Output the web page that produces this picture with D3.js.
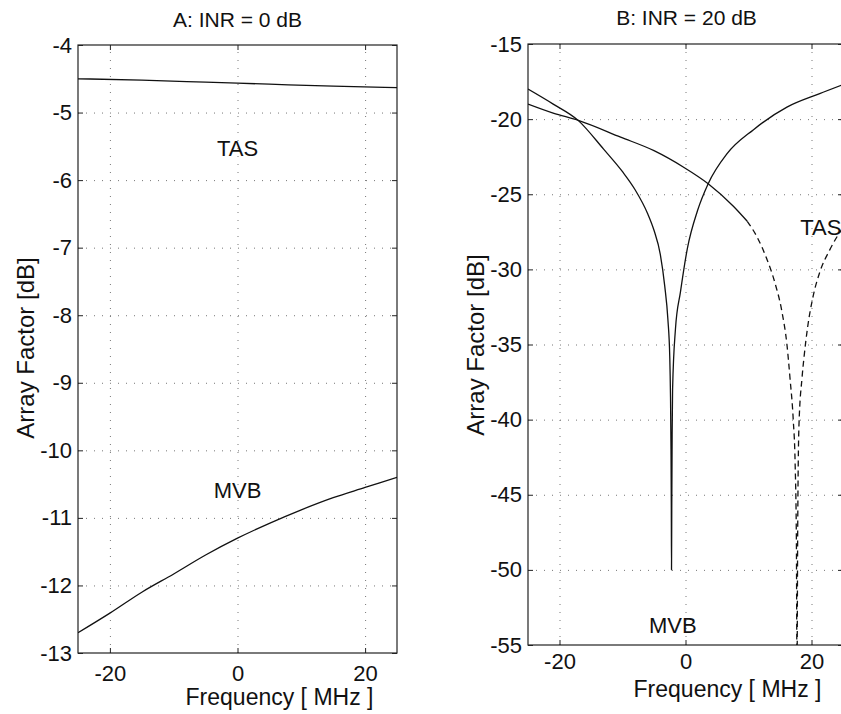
<!DOCTYPE html>
<meta charset="utf-8">
<style>
body { margin: 0; background: #fff; }
svg { font-family: "Liberation Sans", Arial, Helvetica, sans-serif; }
.frame { fill: none; stroke: #222; stroke-width: 1.2px; }
.grid line { stroke: #777; stroke-width: 1px; stroke-dasharray: 1,7; }
.grid path { display: none; }
.ticks path { display: none; }
.ticks line { stroke: #222; }
.ticks text { font-size: 22px; fill: #111; }
.curve { fill: none; stroke: #111; stroke-width: 1.3px; }
.dashed { stroke-dasharray: 6,4; }
.lbl { font-size: 22px; fill: #111; }
</style>
<svg width="841" height="714"></svg>
<script src="https://d3js.org/d3.v7.min.js"></script>
<script>

// frequency ticks shared by both panels [MHz]
var freqTicks = [-20, 0, 20];

// panel A: INR = 0 dB
var aTicks = [-4, -5, -6, -7, -8, -9, -10, -11, -12, -13];
var tasA = [[-25, -4.50], [-15, -4.52], [-5, -4.55], [5, -4.58], [15, -4.61], [25, -4.63]];
var mvbA = [[-25, -12.7], [-20, -12.41], [-15, -12.1], [-10, -11.83], [-5, -11.55], [0, -11.3],
            [5, -11.08], [10, -10.88], [15, -10.7], [20, -10.55], [25, -10.4]];

// panel B: INR = 20 dB
var bTicks = [-15, -20, -25, -30, -35, -40, -45, -50, -55];
var mvbB = [[-25, -18.0], [-21, -19.0], [-17, -20.1], [-13, -22.0], [-10, -23.5], [-8, -24.7],
            [-6, -26.3], [-5, -27.4], [-4, -29.0], [-3.3, -31.1], [-2.8, -33.3], [-2.5, -35.8],
            [-2.38, -38.5], [-2.3, -42], [-2.25, -46], [-2.22, -50], [-2.18, -46], [-2.12, -41],
            [-2.05, -38], [-1.6, -34], [-0.8, -31.5], [0.3, -28.6], [1.9, -26.1], [3.6, -24.3],
            [6.6, -22.3], [10.8, -20.7], [16.1, -19.2], [21.3, -18.3], [25, -17.7]];
var tasB = [[-25, -19.0], [-21, -19.6], [-16.9, -20.1], [-10.3, -21.2], [-5, -22.1], [-0.3, -23.2],
            [3.6, -24.3], [7.6, -25.8], [9.8, -26.8], [11.3, -27.8], [12.9, -29.3], [14.2, -30.9],
            [15.3, -32.8], [16.1, -35.0], [16.6, -37.3], [17.1, -40], [17.4, -42.9], [17.6, -48],
            [17.7, -57], [17.8, -48], [18.0, -40.5], [18.5, -37.2], [18.8, -35.9], [19.4, -33.8],
            [20.2, -31.9], [21.3, -30.2], [22.9, -28.7], [25, -27.2]];
var tasBDashFrom = 9.8;   // TAS curve turns dashed beyond this frequency

var svg = d3.select("svg");

function panel(p) {
  var x = d3.scaleLinear().domain([-25, 25]).range([p.left, p.right]),
      y = d3.scaleLinear().domain([p.ticks[p.ticks.length - 1], p.ticks[0]]).range([p.bottom, p.top]);
  var w = p.right - p.left, h = p.bottom - p.top;

  svg.append("defs").append("clipPath").attr("id", "clip" + p.id)
    .append("rect").attr("x", p.left).attr("y", p.top).attr("width", w).attr("height", h);

  var g = svg.append("g");

  // dotted grid
  g.append("g").attr("class", "grid")
      .attr("transform", "translate(0," + p.bottom + ")")
      .call(d3.axisBottom(x).tickValues(freqTicks).tickSize(-h).tickFormat(""));
  g.append("g").attr("class", "grid")
      .attr("transform", "translate(" + p.left + ",0)")
      .call(d3.axisLeft(y).tickValues(p.ticks.slice(1, -1)).tickSize(-w).tickFormat(""));

  // inward ticks on all four sides, labels only bottom and left
  g.append("g").attr("class", "ticks")
      .attr("transform", "translate(0," + p.bottom + ")")
      .call(d3.axisBottom(x).tickValues(freqTicks).tickSizeInner(-5).tickPadding(p.xPad).tickFormat(String));
  g.append("g").attr("class", "ticks")
      .attr("transform", "translate(0," + p.top + ")")
      .call(d3.axisTop(x).tickValues(freqTicks).tickSizeInner(-5).tickFormat(""));
  g.append("g").attr("class", "ticks")
      .attr("transform", "translate(" + p.left + ",0)")
      .call(d3.axisLeft(y).tickValues(p.ticks).tickSizeInner(-5).tickPadding(6).tickFormat(String));
  g.append("g").attr("class", "ticks")
      .attr("transform", "translate(" + p.right + ",0)")
      .call(d3.axisRight(y).tickValues(p.ticks).tickSizeInner(-5).tickFormat(""));

  g.append("rect").attr("class", "frame")
      .attr("x", p.left).attr("y", p.top).attr("width", w).attr("height", h);

  var line = d3.line()
      .x(function(d) { return x(d[0]); })
      .y(function(d) { return y(d[1]); })
      .curve(d3.curveMonotoneX);

  var c = g.append("g").attr("clip-path", "url(#clip" + p.id + ")");
  p.curves.forEach(function(s) {
    c.append("path").datum(s.data)
        .attr("class", s.dashed ? "curve dashed" : "curve")
        .attr("d", line);
  });

  // titles and labels
  g.append("text").attr("class", "lbl")
      .attr("x", (p.left + p.right) / 2 + p.titleDx).attr("y", p.titleY)
      .attr("text-anchor", "middle").style("font-size", "21px").text(p.title);
  g.append("text").attr("class", "lbl")
      .attr("x", (p.left + p.right) / 2 + 42).attr("y", p.xLabelY)
      .attr("text-anchor", "middle").style("font-size", "23px").text("Frequency [ MHz ]");
  g.append("text").attr("class", "lbl")
      .attr("transform", "translate(" + p.yLabelX + "," + p.yLabelY + ") rotate(-90)")
      .attr("text-anchor", "middle").style("font-size", "24px").text("Array Factor [dB]");

  p.notes.forEach(function(n) {
    g.append("text").attr("class", "lbl")
        .attr("x", x(n.f)).attr("y", y(n.v))
        .attr("text-anchor", n.anchor || "middle").text(n.text);
  });
}

panel({
  id: "A", left: 78, right: 397, top: 45, bottom: 653, ticks: aTicks, xPad: 12,
  title: "A: INR = 0 dB", titleDx: 0, titleY: 27, xLabelY: 705, yLabelX: 34, yLabelY: 348,
  curves: [{data: tasA}, {data: mvbA}],
  notes: [{text: "TAS", f: 0, v: -5.65}, {text: "MVB", f: 0, v: -10.7}]
});

panel({
  id: "B", left: 528, right: 843, top: 44, bottom: 645, ticks: bTicks, xPad: 8,
  title: "B: INR = 20 dB", titleDx: 1, titleY: 25, xLabelY: 697, yLabelX: 484, yLabelY: 345,
  curves: [
    {data: mvbB},
    {data: tasB.filter(function(d) { return d[0] <= tasBDashFrom; })},
    {data: tasB.filter(function(d) { return d[0] >= tasBDashFrom; }), dashed: true}
  ],
  notes: [{text: "MVB", f: -2, v: -54.2}, {text: "TAS", f: 18.2, v: -27.7, anchor: "start"}]
});

</script>
